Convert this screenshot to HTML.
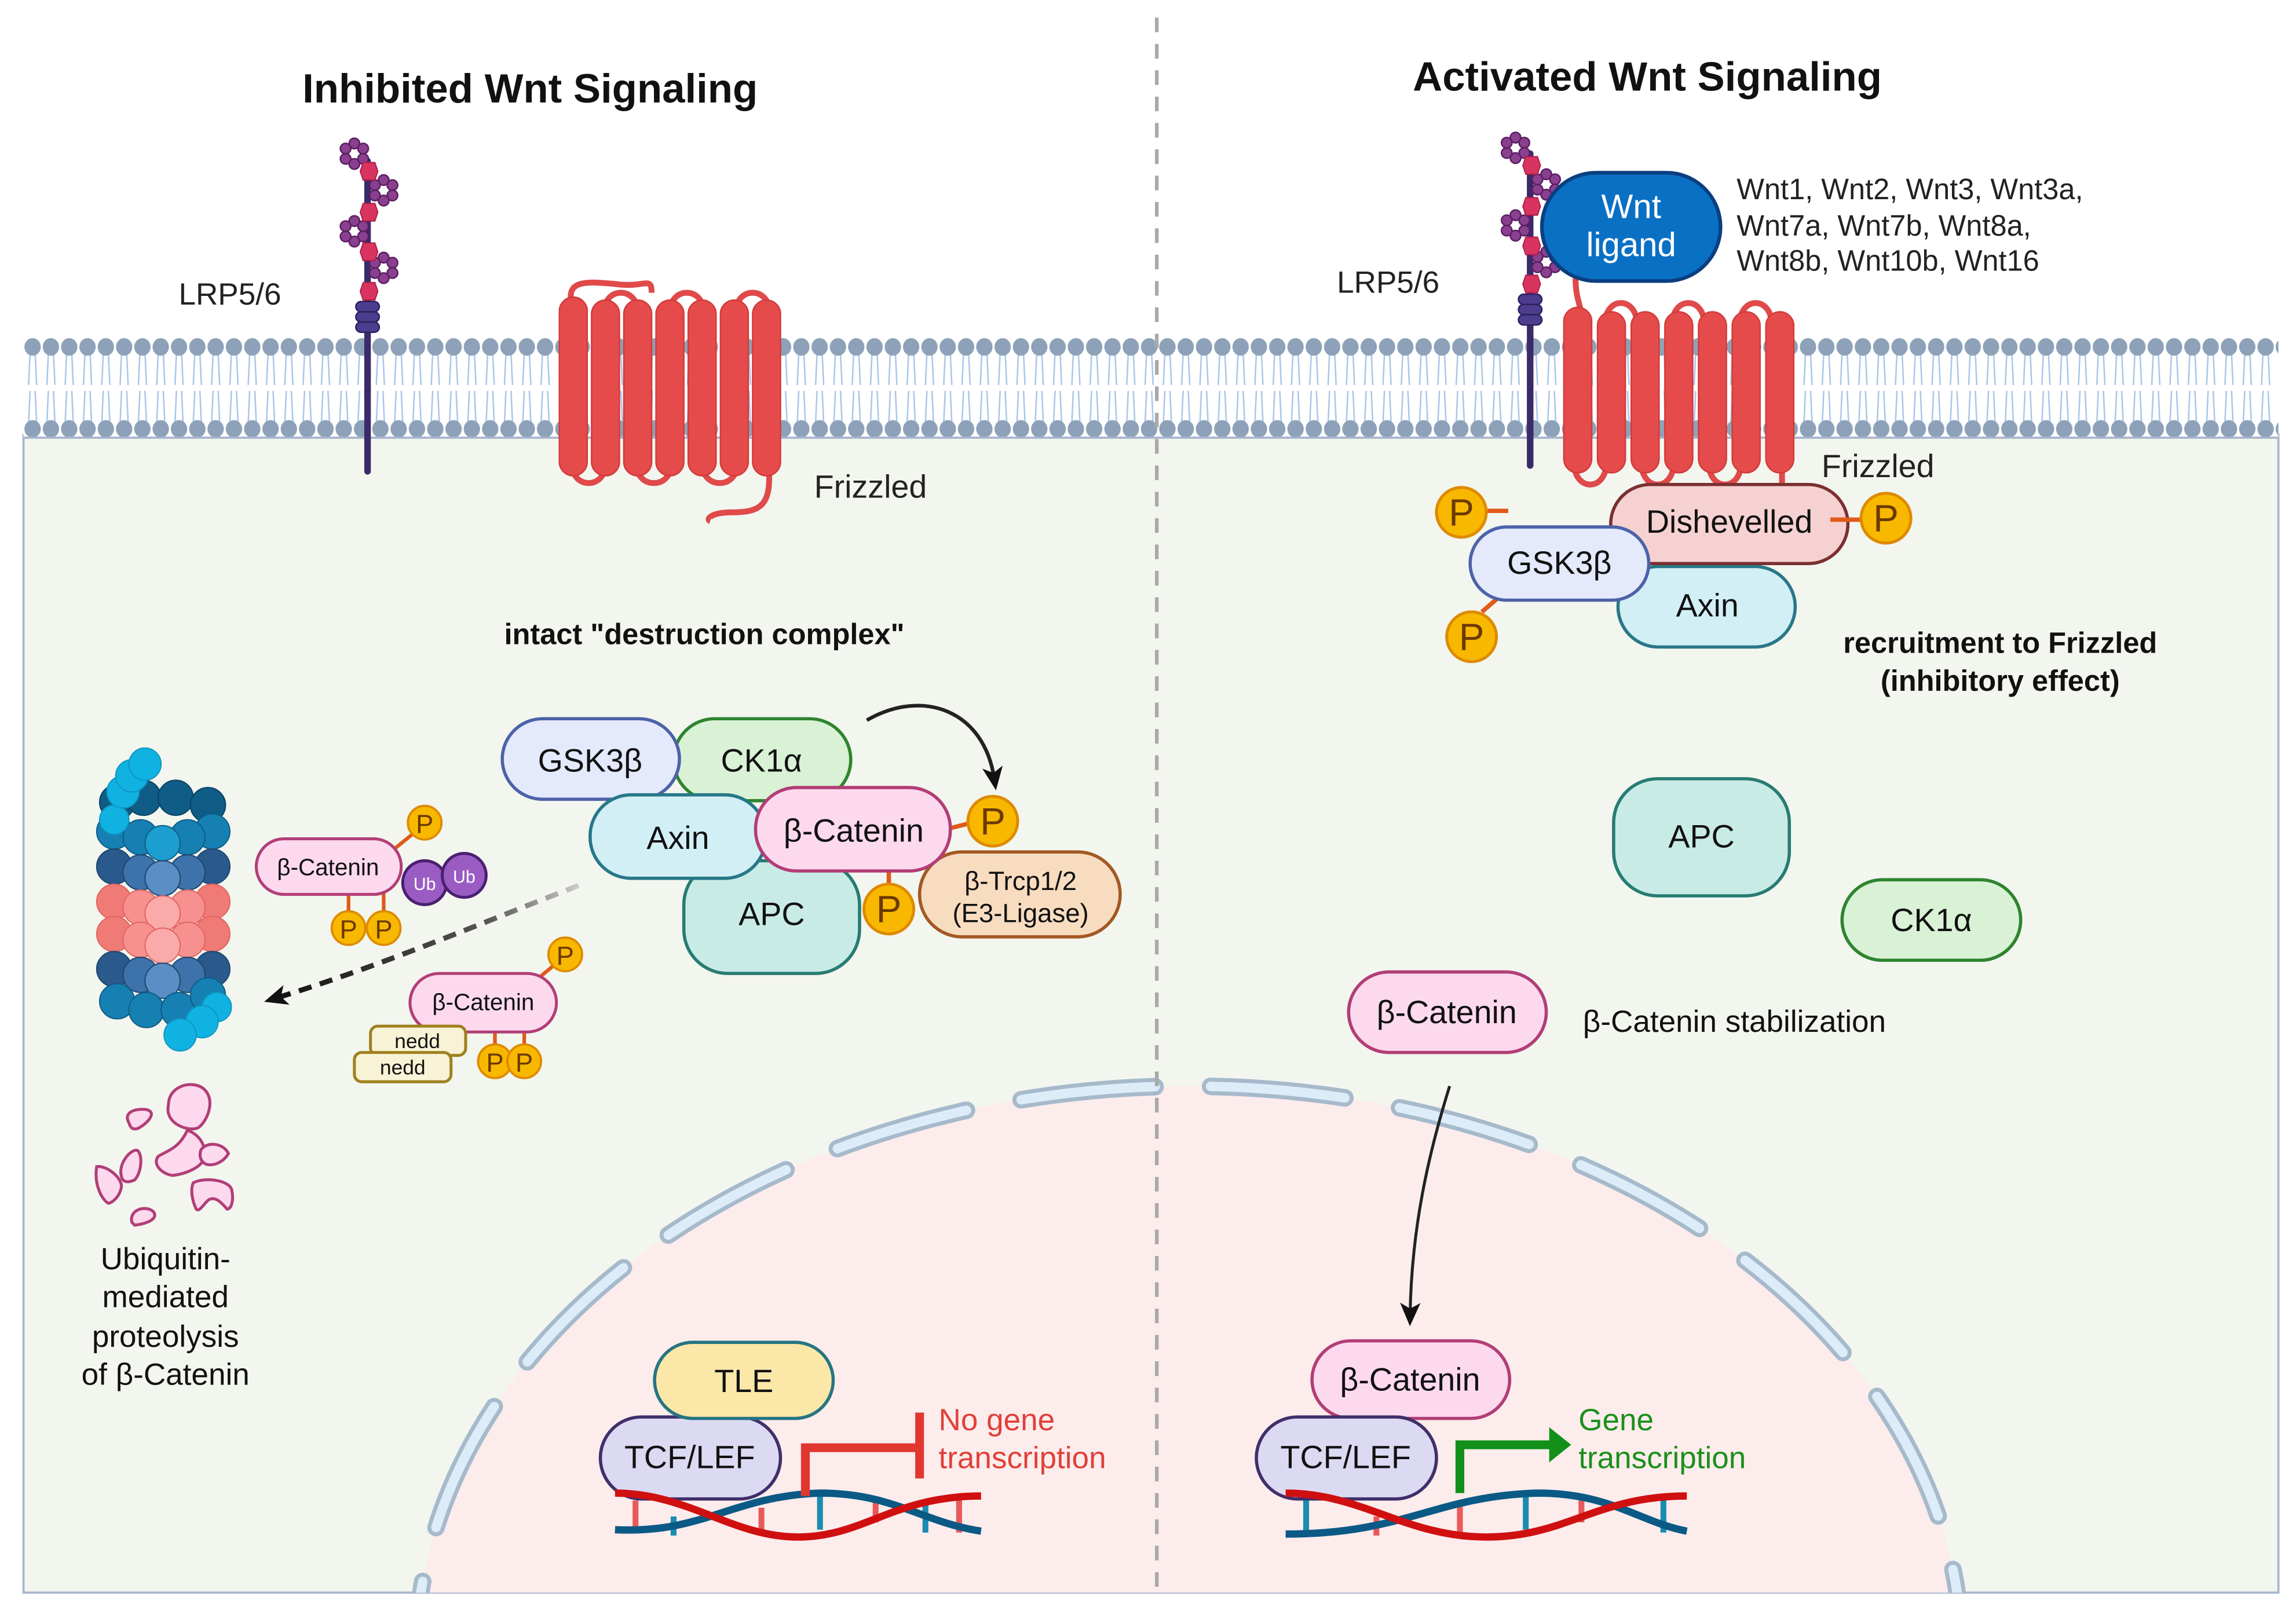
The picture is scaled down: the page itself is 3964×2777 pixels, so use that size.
<!DOCTYPE html>
<html><head><meta charset="utf-8"><style>html,body{margin:0;padding:0;background:#fff;width:3964px;height:2777px;overflow:hidden}svg{display:block}text{font-family:"Liberation Sans",sans-serif}</style></head>
<body>
<svg width="3964" height="2777" viewBox="0 0 1568 1098.5" xmlns="http://www.w3.org/2000/svg">
<defs>
<pattern id="mem" x="16" y="231" width="12.5" height="68" patternUnits="userSpaceOnUse">
<g stroke="#a9c6ea" stroke-width="1" fill="none">
<path d="M4.5,10 L3.5,32 M8,10 L9,32 M4.5,36 L3.5,58 M8,36 L9,58"/>
</g>
<ellipse cx="6.25" cy="6" rx="5.6" ry="6" fill="#8da2b8"/>
<ellipse cx="6.25" cy="62" rx="5.6" ry="6" fill="#8da2b8"/>
</pattern>
<g id="flw" fill="#8a3f8f" stroke="#5b1f63" stroke-width="1">
<circle cx="0" cy="-7" r="3.6"/><circle cx="6" cy="-3.5" r="3.6"/><circle cx="6" cy="3.5" r="3.6"/>
<circle cx="0" cy="7" r="3.6"/><circle cx="-6" cy="3.5" r="3.6"/><circle cx="-6" cy="-3.5" r="3.6"/>
</g>
<g id="hex"><polygon points="-4,-6 4,-6 6,0 4,6 -4,6 -6,0" fill="#d8345f" stroke="#b01e48" stroke-width="0.8"/></g>
<g id="P"><circle r="17" fill="#f9b800" stroke="#de8a00" stroke-width="2"/><text y="9" text-anchor="middle" font-size="26" fill="#6b3a00">P</text></g>
<g id="Ps"><circle r="11.5" fill="#f9b800" stroke="#de8a00" stroke-width="1.5"/><text y="7" text-anchor="middle" font-size="18" fill="#6b3a00">P</text></g>
<marker id="ah2" markerWidth="16" markerHeight="16" refX="8" refY="8" orient="auto" markerUnits="userSpaceOnUse" viewBox="0 0 16 16"><path d="M0,1 L16,8 L0,15 L4,8Z" fill="#111"/></marker>
<clipPath id="cell"><rect x="16" y="297" width="1540" height="791"/></clipPath>
<linearGradient id="fadeL" x1="0" y1="0" x2="1" y2="0"><stop offset="0" stop-color="#111"/><stop offset="0.7" stop-color="#555"/><stop offset="1" stop-color="#ccc"/></linearGradient>
</defs>

<rect x="16" y="297" width="1540" height="791" fill="#f2f6ef" stroke="#a7b6cc" stroke-width="1.5"/>
<g clip-path="url(#cell)">
<ellipse cx="812" cy="1132" rx="528" ry="390" fill="#fdecec"/>
<ellipse cx="812" cy="1132" rx="528" ry="390" fill="none" stroke="#a6bacb" stroke-width="12" stroke-dasharray="92 38" stroke-dashoffset="20" stroke-linecap="round"/>
<ellipse cx="812" cy="1132" rx="528" ry="390" fill="none" stroke="#dcedf9" stroke-width="6.5" stroke-dasharray="92 38" stroke-dashoffset="20" stroke-linecap="round"/>
</g>
<rect x="16" y="231" width="1540" height="68" fill="#fff"/>
<rect x="16" y="231" width="1540" height="68" fill="url(#mem)"/>
<line x1="16" y1="299" x2="1556" y2="299" stroke="#a7b6cc" stroke-width="1.5"/>

<line x1="790" y1="12" x2="790" y2="1085" stroke="#a9a9a9" stroke-width="2.5" stroke-dasharray="10 8"/>

<text x="362" y="70" text-anchor="middle" font-size="28" font-weight="bold" fill="#111">Inhibited Wnt Signaling</text>
<text x="1125" y="62" text-anchor="middle" font-size="28" font-weight="bold" fill="#111">Activated Wnt Signaling</text>

<!-- LEFT LRP5/6 -->
<line x1="251" y1="110" x2="251" y2="322" stroke="#3b2a6a" stroke-width="4.5" stroke-linecap="round"/>
<use href="#flw" x="242" y="105"/><use href="#flw" x="262" y="130"/><use href="#flw" x="242" y="158"/><use href="#flw" x="262" y="183"/>
<use href="#hex" x="252" y="117"/><use href="#hex" x="252" y="145"/><use href="#hex" x="252" y="172"/><use href="#hex" x="252" y="199"/>
<g fill="#4c3d8f" stroke="#2d2160" stroke-width="1"><rect x="243" y="206" width="16" height="7" rx="3.5"/><rect x="243" y="213" width="16" height="7" rx="3.5"/><rect x="243" y="220" width="16" height="7" rx="3.5"/></g>
<text x="122" y="208" font-size="21" fill="#222">LRP5/6</text>

<!-- LEFT Frizzled -->
<g fill="none" stroke="#e04a4a" stroke-width="4">
<path d="M390,205 C388,192 400,192 420,194 C440,197 445,188 445,200"/>
<path d="M413,212 C413,196 435,196 435,212"/><path d="M458,212 C458,196 480,196 480,212"/><path d="M503,212 C503,196 525,196 525,212"/>
<path d="M391,318 C391,334 413,334 413,318"/><path d="M435,318 C435,334 458,334 458,318"/><path d="M480,318 C480,334 503,334 503,318"/>
<path d="M525,318 C527,345 520,350 500,350 C485,350 482,355 485,356"/>
</g>
<g fill="#e64b4b" stroke="#d23b3b" stroke-width="1">
<rect x="382" y="203" width="19" height="122" rx="9.5"/><rect x="404" y="205" width="19" height="120" rx="9.5"/><rect x="426" y="205" width="19" height="120" rx="9.5"/><rect x="448" y="205" width="19" height="120" rx="9.5"/><rect x="470" y="205" width="19" height="120" rx="9.5"/><rect x="492" y="205" width="19" height="120" rx="9.5"/><rect x="514" y="205" width="19" height="120" rx="9.5"/>
</g>
<text x="556" y="340" font-size="22" fill="#222">Frizzled</text>

<text x="481" y="440" text-anchor="middle" font-size="20" font-weight="bold" fill="#111">intact "destruction complex"</text>

<g font-size="22" fill="#111" text-anchor="middle" stroke-width="2.2">
<rect x="460" y="491" width="121" height="56" rx="28" fill="#d9f2d6" stroke="#2f842f"/>
<rect x="343" y="491" width="121" height="55" rx="27.5" fill="#e4e9fc" stroke="#4c62a8"/>
<rect x="467" y="588" width="120" height="77" rx="30" fill="#c8ebe6" stroke="#277c72"/>
<rect x="403" y="543" width="120" height="57" rx="28" fill="#d2eff5" stroke="#287788"/>
<rect x="628" y="582" width="137" height="58" rx="29" fill="#f8dcc0" stroke="#a35822"/>
<line x1="607" y1="593" x2="607" y2="608" stroke="#e05a1a" stroke-width="3"/>
<line x1="648" y1="566" x2="664" y2="562" stroke="#e05a1a" stroke-width="3"/>
<rect x="516" y="538" width="133" height="57" rx="28" fill="#fdd9ee" stroke="#b23e77"/>
<text x="403" y="527" stroke="none">GSK3β</text>
<text x="520" y="527" stroke="none">CK1α</text>
<text x="463" y="580" stroke="none">Axin</text>
<text x="583" y="575" stroke="none">β-Catenin</text>
<text x="527" y="632" stroke="none">APC</text>
<text x="697" y="608" stroke="none" font-size="18">β-Trcp1/2</text>
<text x="697" y="630" stroke="none" font-size="18">(E3-Ligase)</text>
</g>
<use href="#P" x="678" y="561"/><use href="#P" x="607" y="621"/>
<path d="M592,492 C630,470 672,485 679,532" fill="none" stroke="#222" stroke-width="2.5" marker-end="url(#ah2)"/>
<path d="M395,605 C330,630 260,660 188,682" fill="none" stroke="url(#fadeL)" stroke-width="3.5" stroke-dasharray="9 6" marker-end="url(#ah2)"/>

<!-- proteasome -->
<g stroke-width="0.8">
<g fill="#0f5c86" stroke="#0a4466"><circle cx="80" cy="548" r="12"/><circle cx="98" cy="545" r="12"/><circle cx="120" cy="545" r="12"/><circle cx="142" cy="550" r="12"/></g>
<g fill="#1680b2" stroke="#0f5c86"><circle cx="78" cy="568" r="12"/><circle cx="145" cy="568" r="12"/><circle cx="96" cy="572" r="12"/><circle cx="128" cy="572" r="12"/><circle cx="111" cy="576" r="12" fill="#1c9fd0"/></g>
<g fill="#2a5a8c" stroke="#1e4670"><circle cx="78" cy="592" r="12"/><circle cx="145" cy="592" r="12"/><circle cx="96" cy="596" r="12" fill="#3e72aa"/><circle cx="128" cy="596" r="12" fill="#3e72aa"/><circle cx="111" cy="600" r="12" fill="#5b8ec4"/></g>
<g fill="#f07a76" stroke="#e06460"><circle cx="78" cy="616" r="12"/><circle cx="145" cy="616" r="12"/><circle cx="96" cy="620" r="12" fill="#f79190"/><circle cx="128" cy="620" r="12" fill="#f79190"/><circle cx="111" cy="624" r="12" fill="#fbaaaa"/>
<circle cx="78" cy="638" r="12"/><circle cx="145" cy="638" r="12"/><circle cx="96" cy="642" r="12" fill="#f79190"/><circle cx="128" cy="642" r="12" fill="#f79190"/><circle cx="111" cy="646" r="12" fill="#fbaaaa"/></g>
<g fill="#2a5a8c" stroke="#1e4670"><circle cx="78" cy="662" r="12"/><circle cx="145" cy="662" r="12"/><circle cx="96" cy="666" r="12" fill="#3e72aa"/><circle cx="128" cy="666" r="12" fill="#3e72aa"/><circle cx="111" cy="670" r="12" fill="#5b8ec4"/></g>
<g fill="#1680b2" stroke="#0f5c86"><circle cx="80" cy="684" r="12"/><circle cx="100" cy="690" r="12"/><circle cx="122" cy="690" r="12"/><circle cx="142" cy="680" r="12"/></g>
<g fill="#10b2e2" stroke="#0e96c0"><circle cx="78" cy="560" r="10"/><circle cx="84" cy="541" r="11"/><circle cx="90" cy="530" r="11"/><circle cx="99" cy="522" r="11"/><circle cx="148" cy="688" r="10"/><circle cx="138" cy="698" r="11"/><circle cx="123" cy="707" r="11"/></g>
</g>

<line x1="263" y1="585" x2="284" y2="568" stroke="#e05a1a" stroke-width="2.5"/>
<line x1="238" y1="605" x2="238" y2="628" stroke="#e05a1a" stroke-width="2.5"/><line x1="262" y1="605" x2="262" y2="628" stroke="#e05a1a" stroke-width="2.5"/>
<rect x="175" y="573" width="99" height="38" rx="19" fill="#fdd9ee" stroke="#b23e77" stroke-width="2"/>
<text x="224" y="598" text-anchor="middle" font-size="16" fill="#111">β-Catenin</text>
<use href="#Ps" x="290" y="562"/><use href="#Ps" x="238" y="634"/><use href="#Ps" x="262" y="634"/>
<circle cx="290" cy="603" r="15" fill="#9a5cc2" stroke="#4a2070" stroke-width="2"/><circle cx="317" cy="598" r="15" fill="#9a5cc2" stroke="#4a2070" stroke-width="2"/>
<text x="290" y="608" text-anchor="middle" font-size="12" fill="#fff">Ub</text><text x="317" y="603" text-anchor="middle" font-size="12" fill="#fff">Ub</text>

<line x1="368" y1="668" x2="380" y2="658" stroke="#e05a1a" stroke-width="2.5"/>
<line x1="338" y1="700" x2="338" y2="718" stroke="#e05a1a" stroke-width="2.5"/><line x1="358" y1="700" x2="358" y2="718" stroke="#e05a1a" stroke-width="2.5"/>
<rect x="280" y="665" width="100" height="40" rx="20" fill="#fdd9ee" stroke="#b23e77" stroke-width="2"/>
<text x="330" y="690" text-anchor="middle" font-size="16" fill="#111">β-Catenin</text>
<use href="#Ps" x="386" y="652"/>
<rect x="253" y="701" width="65" height="20" rx="5" fill="#f8f3d6" stroke="#a08020" stroke-width="2"/>
<text x="285" y="716" text-anchor="middle" font-size="14" fill="#111">nedd</text>
<rect x="242" y="719" width="66" height="20" rx="5" fill="#f8f3d6" stroke="#a08020" stroke-width="2"/>
<text x="275" y="734" text-anchor="middle" font-size="14" fill="#111">nedd</text>
<use href="#Ps" x="338" y="725"/><use href="#Ps" x="358" y="725"/>

<g fill="#fdd9ee" stroke="#b23e77" stroke-width="2">
<path d="M115,755 C115,742 130,738 138,743 C148,750 142,765 136,770 C130,774 112,768 115,755Z"/>
<path d="M88,767 C84,760 92,757 100,758 C108,760 100,768 94,771 C90,772 89,770 88,767Z"/>
<path d="M83,804 C80,795 90,784 94,786 C98,790 96,802 92,806 C88,808 84,808 83,804Z"/>
<path d="M128,772 C135,775 140,780 140,790 C138,798 126,802 118,803 C110,802 104,795 108,790 C114,786 122,785 128,772Z"/>
<path d="M137,786 C140,780 152,780 156,788 C152,795 144,797 140,795 C137,793 136,790 137,786Z"/>
<path d="M66,797 C72,796 82,803 83,810 C82,818 76,822 74,822 C70,820 64,810 66,797Z"/>
<path d="M132,808 C140,804 155,806 158,812 C160,820 158,826 155,826 C150,820 146,817 142,820 C138,824 136,828 134,826 C131,820 130,812 132,808Z"/>
<path d="M90,835 C88,826 100,823 105,828 C108,833 100,836 92,837Z"/>
</g>
<g font-size="21" fill="#111" text-anchor="middle">
<text x="113" y="867">Ubiquitin-</text><text x="113" y="893">mediated</text><text x="113" y="920">proteolysis</text><text x="113" y="946">of β-Catenin</text>
</g>

<g font-size="22" fill="#111" text-anchor="middle" stroke-width="2.2">
<rect x="410" y="968" width="123" height="56" rx="28" fill="#dcdaf2" stroke="#3f2f6a"/>
<rect x="447" y="917" width="122" height="52" rx="26" fill="#fbe7a8" stroke="#267582"/>
<text x="508" y="951" stroke="none">TLE</text>
<text x="471" y="1003" stroke="none">TCF/LEF</text>
</g>
<g>
<g stroke-width="4"><line x1="434" y1="1025" x2="434" y2="1047" stroke="#e85a5a"/><line x1="460" y1="1036" x2="460" y2="1049" stroke="#1a8cb0"/><line x1="520" y1="1030" x2="520" y2="1049" stroke="#e85a5a"/><line x1="560" y1="1022" x2="560" y2="1045" stroke="#1a8cb0"/><line x1="598" y1="1025" x2="598" y2="1040" stroke="#e85a5a"/><line x1="632" y1="1025" x2="632" y2="1047" stroke="#1a8cb0"/><line x1="655" y1="1024" x2="655" y2="1047" stroke="#e85a5a"/></g>
<path d="M420,1045 C480,1048 500,1022 560,1020 C610,1020 630,1040 670,1046" fill="none" stroke="#0b5a86" stroke-width="5"/>
<path d="M420,1020 C470,1020 500,1050 545,1050 C590,1050 610,1022 670,1022" fill="none" stroke="#d01010" stroke-width="5"/>
</g>
<path d="M550,1022 L550,989 L625,989" fill="none" stroke="#e0372f" stroke-width="6"/>
<line x1="628" y1="965" x2="628" y2="1010" stroke="#e0372f" stroke-width="6"/>
<text x="641" y="977" font-size="21" fill="#e0403a">No gene</text><text x="641" y="1003" font-size="21" fill="#e0403a">transcription</text>

<!-- RIGHT LRP5/6 -->
<line x1="1045" y1="105" x2="1045" y2="318" stroke="#3b2a6a" stroke-width="4.5" stroke-linecap="round"/>
<use href="#flw" x="1035" y="101"/><use href="#flw" x="1056" y="126"/><use href="#flw" x="1035" y="154"/><use href="#flw" x="1056" y="179"/>
<use href="#hex" x="1046" y="113"/><use href="#hex" x="1046" y="141"/><use href="#hex" x="1046" y="168"/><use href="#hex" x="1046" y="194"/>
<g fill="#4c3d8f" stroke="#2d2160" stroke-width="1"><rect x="1037" y="201" width="16" height="7" rx="3.5"/><rect x="1037" y="208" width="16" height="7" rx="3.5"/><rect x="1037" y="215" width="16" height="7" rx="3.5"/></g>
<text x="913" y="200" font-size="21" fill="#222">LRP5/6</text>

<g fill="none" stroke="#e04a4a" stroke-width="4">
<path d="M1076,190 C1076,205 1080,208 1080,218"/>
<path d="M1096,222 C1096,202 1118,202 1118,222"/><path d="M1142,222 C1142,202 1164,202 1164,222"/><path d="M1188,222 C1188,202 1210,202 1210,222"/>
<path d="M1075,316 C1075,336 1097,336 1097,316"/><path d="M1121,316 C1121,336 1143,336 1143,316"/><path d="M1167,316 C1167,336 1189,336 1189,316"/>
<path d="M1217,316 L1217,338"/>
</g>
<g fill="#e64b4b" stroke="#d23b3b" stroke-width="1">
<rect x="1068" y="210" width="19" height="113" rx="9.5"/><rect x="1091" y="213" width="19" height="110" rx="9.5"/><rect x="1114" y="213" width="19" height="110" rx="9.5"/><rect x="1137" y="213" width="19" height="110" rx="9.5"/><rect x="1160" y="213" width="19" height="110" rx="9.5"/><rect x="1183" y="213" width="19" height="110" rx="9.5"/><rect x="1206" y="213" width="19" height="110" rx="9.5"/>
</g>
<text x="1244" y="326" font-size="22" fill="#222">Frizzled</text>
<rect x="1053" y="118" width="122" height="74" rx="37" fill="#0a70c4" stroke="#0a3f80" stroke-width="2.5"/>
<text x="1114" y="149" text-anchor="middle" font-size="23" fill="#fff">Wnt</text>
<text x="1114" y="175" text-anchor="middle" font-size="23" fill="#fff">ligand</text>
<g font-size="20" fill="#222"><text x="1186" y="136">Wnt1, Wnt2, Wnt3, Wnt3a,</text><text x="1186" y="161">Wnt7a, Wnt7b, Wnt8a,</text><text x="1186" y="185">Wnt8b, Wnt10b, Wnt16</text></g>

<line x1="1012" y1="349" x2="1030" y2="349" stroke="#e05a1a" stroke-width="3"/>
<line x1="1027" y1="405" x2="1012" y2="418" stroke="#e05a1a" stroke-width="3"/>
<g font-size="22" fill="#111" text-anchor="middle" stroke-width="2.2">
<rect x="1105" y="387" width="121" height="55" rx="27.5" fill="#d2eff5" stroke="#287788"/>
<rect x="1100" y="331" width="162" height="54" rx="27" fill="#f6d1d1" stroke="#7a3030"/>
<rect x="1004" y="360" width="122" height="50" rx="25" fill="#e4e9fc" stroke="#4c62a8"/>
<text x="1181" y="364" stroke="none">Dishevelled</text>
<text x="1065" y="392" stroke="none">GSK3β</text>
<text x="1166" y="421" stroke="none">Axin</text>
</g>
<line x1="1250" y1="355" x2="1272" y2="355" stroke="#e05a1a" stroke-width="3"/>
<use href="#P" x="998" y="350"/><use href="#P" x="1288" y="354"/><use href="#P" x="1005" y="435"/>
<text x="1366" y="446" text-anchor="middle" font-size="20" font-weight="bold" fill="#111">recruitment to Frizzled</text>
<text x="1366" y="472" text-anchor="middle" font-size="20" font-weight="bold" fill="#111">(inhibitory effect)</text>

<g font-size="22" fill="#111" text-anchor="middle" stroke-width="2.2">
<rect x="1102" y="532" width="120" height="80" rx="30" fill="#c8ebe6" stroke="#277c72"/>
<text x="1162" y="579" stroke="none">APC</text>
<rect x="1258" y="601" width="122" height="55" rx="27.5" fill="#d9f2d6" stroke="#2f842f"/>
<text x="1319" y="636" stroke="none">CK1α</text>
<rect x="921" y="664" width="135" height="55" rx="27.5" fill="#fdd9ee" stroke="#b23e77"/>
<text x="988" y="699" stroke="none">β-Catenin</text>
</g>
<text x="1081" y="705" font-size="21" fill="#111">β-Catenin stabilization</text>
<path d="M990,742 C975,790 964,840 963,898" fill="none" stroke="#222" stroke-width="2" marker-end="url(#ah2)"/>

<g font-size="22" fill="#111" text-anchor="middle" stroke-width="2.2">
<rect x="896" y="916" width="135" height="53" rx="26.5" fill="#fdd9ee" stroke="#b23e77"/>
<text x="963" y="950" stroke="none">β-Catenin</text>
<rect x="858" y="968" width="123" height="56" rx="28" fill="#dcdaf2" stroke="#3f2f6a"/>
<text x="919" y="1003" stroke="none">TCF/LEF</text>
</g>
<g>
<g stroke-width="4"><line x1="892" y1="1025" x2="892" y2="1047" stroke="#1a8cb0"/><line x1="940" y1="1036" x2="940" y2="1049" stroke="#e85a5a"/><line x1="997" y1="1025" x2="997" y2="1049" stroke="#e85a5a"/><line x1="1042" y1="1022" x2="1042" y2="1045" stroke="#1a8cb0"/><line x1="1080" y1="1025" x2="1080" y2="1040" stroke="#e85a5a"/><line x1="1136" y1="1024" x2="1136" y2="1047" stroke="#1a8cb0"/></g>
<path d="M878,1048 C960,1048 980,1022 1050,1020 C1100,1020 1120,1040 1152,1046" fill="none" stroke="#0b5a86" stroke-width="5"/>
<path d="M878,1020 C930,1020 960,1050 1015,1050 C1070,1050 1090,1022 1152,1022" fill="none" stroke="#d01010" stroke-width="5"/>
</g>
<path d="M997,1020 L997,987 L1060,987" fill="none" stroke="#12901a" stroke-width="6"/>
<path d="M1058,975 L1073,987 L1058,999Z" fill="#12901a"/>
<text x="1078" y="977" font-size="21" fill="#1a901a">Gene</text><text x="1078" y="1003" font-size="21" fill="#1a901a">transcription</text>
</svg>
</body></html>
